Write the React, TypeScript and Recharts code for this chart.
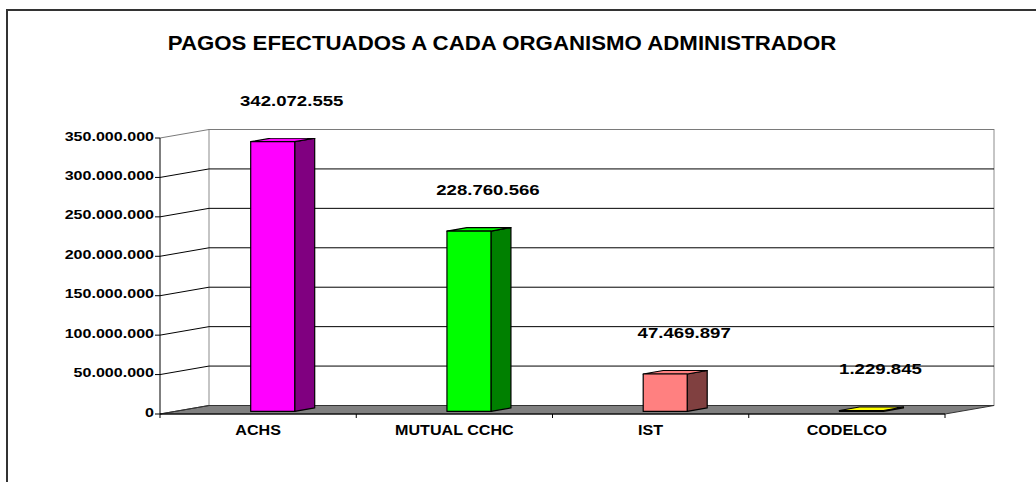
import { BarChart, Bar, XAxis, YAxis, CartesianGrid, LabelList } from "recharts";

const categories = ["ACHS", "MUTUAL CCHC", "IST", "CODELCO"];
const payments = [342072555, 228760566, 47469897, 1229845];
const yTicks = [0, 50000000, 100000000, 150000000, 200000000, 250000000, 300000000, 350000000];

const frontColors = ["#FF00FF", "#00FF00", "#FF8080", "#FFFF00"];
const sideColors = ["#800080", "#008000", "#804040", "#808000"];

const data = categories.map((name, i) => ({ name, value: payments[i] }));

const FONT = "'Liberation Sans', Arial, sans-serif";
// 3D depth: back wall sits this far right/up from the front axis plane
const DX = 49;
const DY = -8.5;
const FACE = 0.3; // depth of the bars' front face
const SIDE_X = 20;
const SIDE_Y = -3.5;

const fmt = (v: number) => String(Math.round(v)).replace(/\B(?=(\d{3})+(?!\d))/g, ".");

// the original glyphs are drawn wide, so stretch text horizontally around its anchor
const WideText = ({ x, y, sx, size, anchor, children }: any) => (
  <text
    transform={`translate(${x},${y}) scale(${sx},1)`}
    textAnchor={anchor}
    fontFamily={FONT}
    fontWeight="bold"
    fontSize={size}
    fill="#000"
  >
    {children}
  </text>
);

const GridLine = (props: any) => {
  const { x1, y1, x2, index, x, y, width, height } = props;
  const bottom = y + height;
  const isTop = Math.abs(y1 - y) < 0.5;
  const isBottom = Math.abs(y1 - bottom) < 0.5;
  return (
    <g key={props.key}>
      {index === 0 && (
        <g>
          <polygon
            points={`${x},${bottom} ${x + DX},${bottom + DY} ${x + width + DX},${bottom + DY} ${x + width},${bottom}`}
            fill="#808080"
            stroke="#333"
          />
          <rect x={x + DX} y={y + DY} width={width} height={height} fill="none" stroke="#8c8c8c" />
        </g>
      )}
      <polyline
        points={`${x1},${y1} ${x1 + DX},${y1 + DY} ${x2 + DX},${y1 + DY}`}
        fill="none"
        stroke={isTop ? "#7a7a7a" : isBottom ? "#333" : "#000"}
      />
    </g>
  );
};

const Box3D = (props: any) => {
  const { x, y, width, height, payload } = props;
  const i = Math.max(0, categories.indexOf(payload?.name));
  const fx = x + DX * FACE;
  const fy = y + DY * FACE;
  const w = width;
  const h = Math.max(height, 0);
  return (
    <g stroke="#000" strokeWidth={1.2} strokeLinejoin="round">
      <polygon
        points={`${fx + w},${fy} ${fx + w + SIDE_X},${fy + SIDE_Y} ${fx + w + SIDE_X},${fy + h + SIDE_Y} ${fx + w},${fy + h}`}
        fill={sideColors[i]}
      />
      <polygon
        points={`${fx},${fy} ${fx + SIDE_X},${fy + SIDE_Y} ${fx + w + SIDE_X},${fy + SIDE_Y} ${fx + w},${fy}`}
        fill={frontColors[i]}
      />
      <rect x={fx} y={fy} width={w} height={h} fill={frontColors[i]} />
    </g>
  );
};

const ValueLabel = (props: any) => {
  const { x, y, width, value } = props;
  return (
    <WideText x={x + width / 2 + DX * FACE + 19} y={y + DY * FACE - 36} sx={1.33} size={14} anchor="middle">
      {fmt(value)}
    </WideText>
  );
};

const YTick = (props: any) => {
  const { x, y, payload } = props;
  return (
    <WideText x={x + 1} y={y + 2.5} sx={1.34} size={12} anchor="end">
      {fmt(payload.value)}
    </WideText>
  );
};

const XTick = (props: any) => {
  const { x, y, payload, index, visibleTicksCount } = props;
  const off = payload?.offset ?? 0;
  return (
    <g>
      {off > 0 && <line x1={x - off} y1={y} x2={x - off} y2={y + 4} stroke="#000" />}
      {off > 0 && index === visibleTicksCount - 1 && (
        <line x1={x + off} y1={y} x2={x + off} y2={y + 4} stroke="#000" />
      )}
      <WideText x={x} y={y + 21} sx={1.15} size={14} anchor="middle">
        {payload.value}
      </WideText>
    </g>
  );
};

const App = () => (
  <div style={{ position: "absolute", left: 0, top: 0, width: 1036, height: 482, overflow: "hidden", background: "#fff" }}>
    <div
      style={{
        position: "absolute",
        left: 6,
        top: 9,
        width: 1200,
        height: 600,
        borderLeft: "2px solid #333",
        borderTop: "2px solid #333",
      }}
    />
    <svg width={1036} height={70} style={{ position: "absolute", left: 0, top: 0 }}>
      <WideText x={502} y={50} sx={1.06} size={21} anchor="middle">
        PAGOS EFECTUADOS A CADA ORGANISMO ADMINISTRADOR
      </WideText>
    </svg>
    <div style={{ position: "absolute", left: 0, top: 0 }}>
      <BarChart width={1036} height={482} data={data} margin={{ top: 138, right: 91, bottom: 38, left: 0 }}>
        <CartesianGrid vertical={false} horizontal={GridLine} />
        <XAxis
          dataKey="name"
          height={30}
          axisLine={{ stroke: "#000" }}
          tickLine={false}
          tickSize={0}
          tickMargin={0}
          interval={0}
          tick={XTick}
        />
        <YAxis
          type="number"
          width={160}
          domain={[0, 350000000]}
          ticks={yTicks}
          interval={0}
          allowDataOverflow
          axisLine={{ stroke: "#000" }}
          tickLine={{ stroke: "#000" }}
          tickSize={5}
          tickMargin={2}
          tick={YTick}
        />
        <Bar dataKey="value" barSize={44} isAnimationActive={false} shape={Box3D}>
          <LabelList dataKey="value" content={ValueLabel} />
        </Bar>
      </BarChart>
    </div>
  </div>
);

export default App;
